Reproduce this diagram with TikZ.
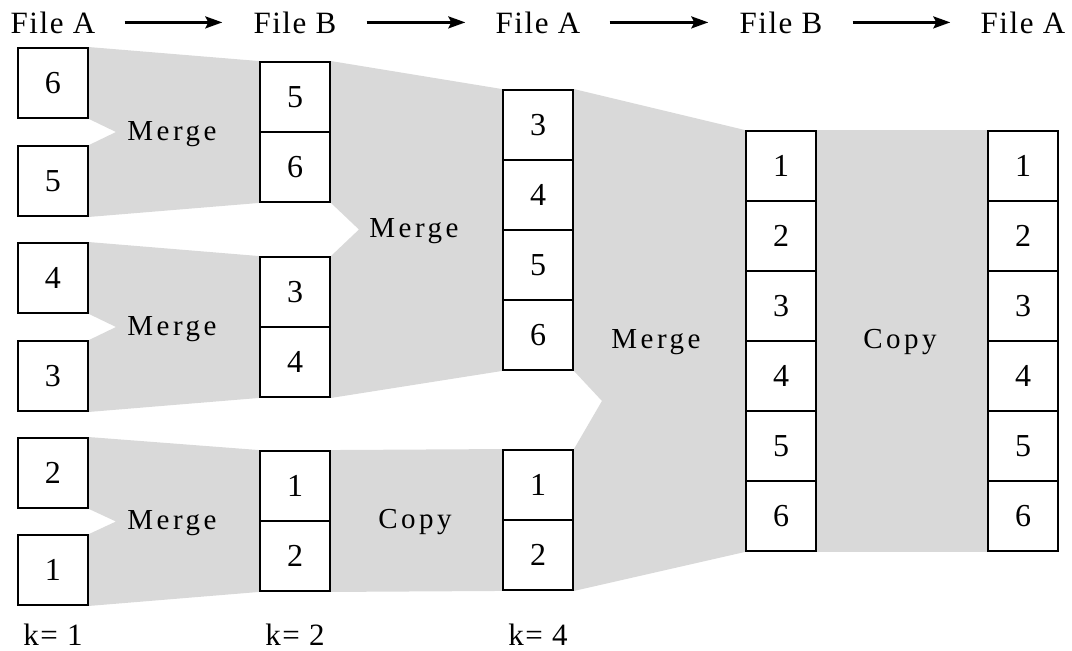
\documentclass[tikz,border=0pt]{standalone}
\usepackage{fontspec}
\setmainfont{Liberation Serif}
\newfontfamily\spacedfont[LetterSpace=12]{Liberation Serif}
\newfontfamily\headfont[LetterSpace=5]{Liberation Serif}
\usetikzlibrary{arrows.meta,calc,backgrounds}
\definecolor{flowgray}{RGB}{217,217,217}

\begin{document}
\begin{tikzpicture}[x=1pt,y=-1pt,
cell/.style={draw,line width=1.9pt,fill=white,minimum width=70pt,minimum height=70pt,inner sep=0pt,font=\fontsize{32}{37}\selectfont},
head/.style={anchor=base,inner sep=0pt,minimum width=87pt,font=\headfont\fontsize{31}{36}\selectfont},
oplabel/.style={anchor=base,inner sep=0pt,font=\spacedfont\fontsize{29}{34}\selectfont},
passlabel/.style={anchor=base,inner sep=0pt,font=\headfont\fontsize{31}{36}\selectfont},
passarrow/.style={line width=2.3pt,-{Stealth[length=17pt,width=12pt,inset=3pt]},shorten <=28pt,shorten >=29pt}]
\useasboundingbox (0,0) rectangle (1072,651);
% file headers
\node[head] (hd1) at (53,33) {File A};
\node[head] (hd2) at (295,33) {File B};
\node[head] (hd3) at (538,33) {File A};
\node[head] (hd4) at (781,33) {File B};
\node[head] (hd5) at (1023,33) {File A};
\draw[passarrow] (hd1.east) -- (hd2.west);
\draw[passarrow] (hd2.east) -- (hd3.west);
\draw[passarrow] (hd3.east) -- (hd4.west);
\draw[passarrow] (hd4.east) -- (hd5.west);
% k=1 runs
\node[cell] (a6) at (53,83) {6};
\node[cell] (a5) at (53,181) {5};
\node[cell] (a4) at (53,278) {4};
\node[cell] (a3) at (53,376) {3};
\node[cell] (a2) at (53,473) {2};
\node[cell] (a1) at (53,570) {1};
% k=2 runs
\node[cell] (b5) at (295,97) {5};
\node[cell] (b6) at (295,167) {6};
\node[cell] (b3) at (295,292) {3};
\node[cell] (b4) at (295,362) {4};
\node[cell] (b1) at (295,486) {1};
\node[cell] (b2) at (295,556) {2};
% k=4 runs
\node[cell] (c3) at (538,125) {3};
\node[cell] (c4) at (538,195) {4};
\node[cell] (c5) at (538,265) {5};
\node[cell] (c6) at (538,335) {6};
\node[cell] (c1) at (538,485) {1};
\node[cell] (c2) at (538,555) {2};
% sorted file, then copy
\foreach \v in {1,...,6} {
  \node[cell] (d\v) at (781,96+70*\v) {\v};
  \node[cell] (e\v) at (1023,96+70*\v) {\v};
}
\begin{scope}[on background layer]
\fill[flowgray] (a6.north east) -- (b5.north west) -- (b6.south west) -- (a5.south east)
  -- (a5.north east) -- ($(a6.south east)!0.5!(a5.north east)+(27,0)$) -- (a6.south east) -- cycle;
\fill[flowgray] (a4.north east) -- (b3.north west) -- (b4.south west) -- (a3.south east)
  -- (a3.north east) -- ($(a4.south east)!0.5!(a3.north east)+(27,0)$) -- (a4.south east) -- cycle;
\fill[flowgray] (a2.north east) -- (b1.north west) -- (b2.south west) -- (a1.south east)
  -- (a1.north east) -- ($(a2.south east)!0.5!(a1.north east)+(27,0)$) -- (a2.south east) -- cycle;
\fill[flowgray] (b5.north east) -- (c3.north west) -- (c6.south west) -- (b4.south east)
  -- (b3.north east) -- ($(b6.south east)!0.5!(b3.north east)+(28,0)$) -- (b6.south east) -- cycle;
\fill[flowgray] (b1.north east) -- (c1.north west) -- (c2.south west) -- (b2.south east) -- cycle;
\fill[flowgray] (c3.north east) -- (d1.north west) -- (d6.south west) -- (c2.south east)
  -- (c1.north east) -- ($(c6.south east)+(28,30)$) -- (c6.south east) -- cycle;
\fill[flowgray] (d1.north east) -- (e1.north west) -- (e6.south west) -- (d6.south east) -- cycle;
\end{scope}
% operations
\node[oplabel] (mg1) at (172,140) {Merge};
\node[oplabel] (mg2) at (172,335) {Merge};
\node[oplabel] (mg3) at (172,529) {Merge};
\node[oplabel] (mg4) at (414,237) {Merge};
\node[oplabel] (cp1) at (415,528) {Copy};
\node[oplabel] (mg5) at (656,348) {Merge};
\node[oplabel] (cp2) at (900,348) {Copy};
% pass counters
\node[passlabel] (k1) at (53,645) {k= 1};
\node[passlabel] (k2) at (295,645) {k= 2};
\node[passlabel] (k4) at (538,645) {k= 4};
\end{tikzpicture}
\end{document}
